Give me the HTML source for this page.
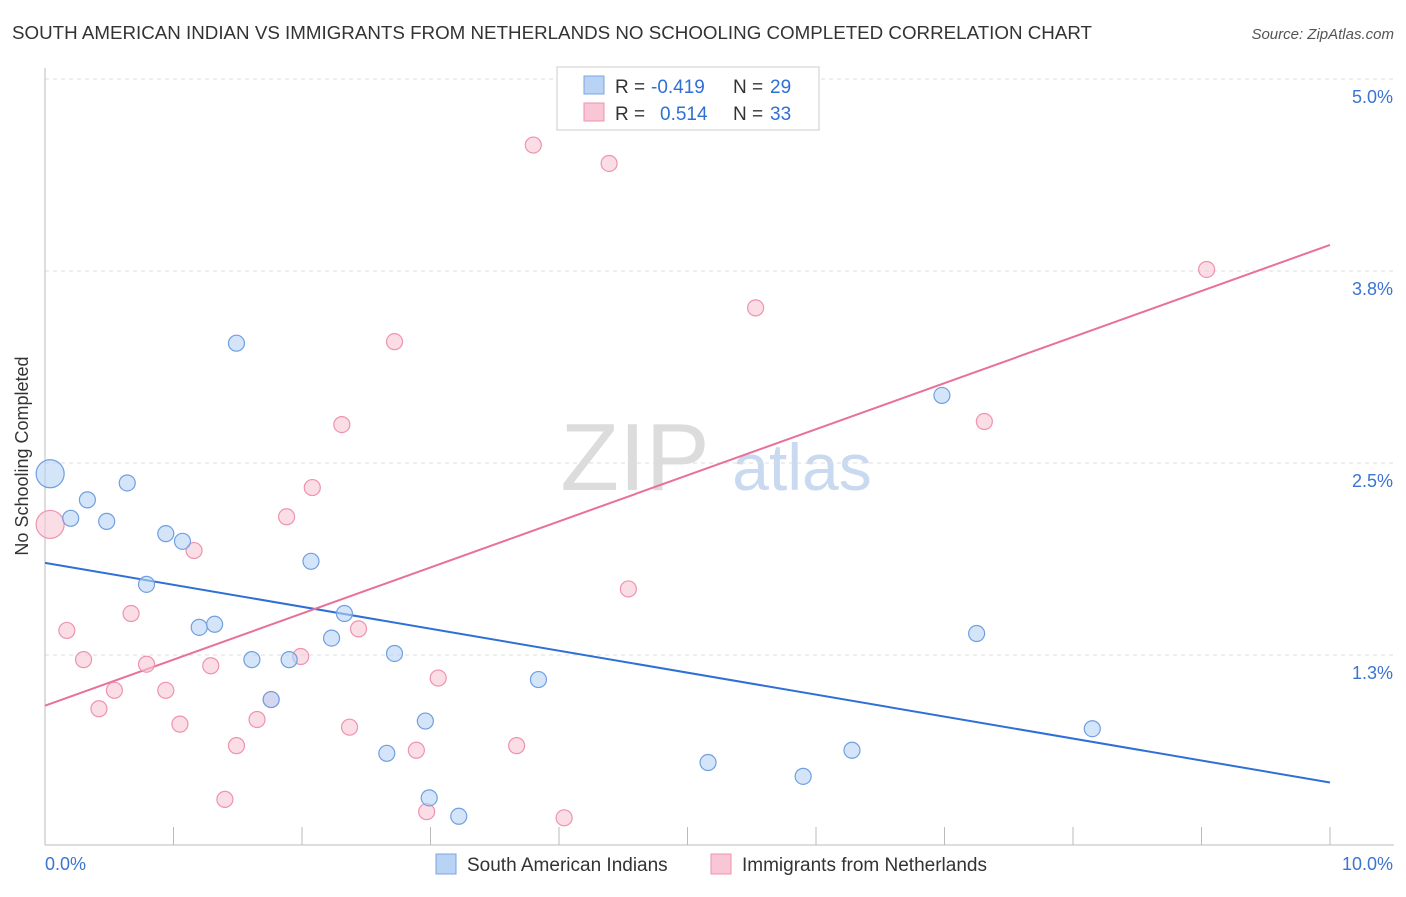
<!DOCTYPE html>
<html><head><meta charset="utf-8"><style>
body{margin:0;background:#fff;font-family:"Liberation Sans",sans-serif;}
svg text{font-family:"Liberation Sans",sans-serif;}
</style></head><body>
<svg id="chart" width="1406" height="892">
<text x="12" y="39" font-size="18" fill="#333" textLength="1080" lengthAdjust="spacingAndGlyphs">SOUTH AMERICAN INDIAN VS IMMIGRANTS FROM NETHERLANDS NO SCHOOLING COMPLETED CORRELATION CHART</text>
<text x="1394" y="39" font-size="15" fill="#555" font-style="italic" text-anchor="end">Source: ZipAtlas.com</text>
<text x="28" y="456" font-size="18" fill="#333" transform="rotate(-90 28 456)" text-anchor="middle">No Schooling Completed</text>
<g><text x="635" y="490" font-size="96" fill="#dcdcdc" font-family="Liberation Serif" text-anchor="middle">ZIP</text><text x="802" y="490" font-size="66" fill="#c9d9f0" text-anchor="middle">atlas</text></g>
<g id="grid"></g><g id="axes"></g><g id="lines"></g><g id="pts"></g>
<g>
<rect x="557" y="67" width="262" height="63" fill="#fff" stroke="#ccc"/>
<rect x="584" y="76" width="20" height="18" fill="#b9d3f5" stroke="#7aa6e0"/>
<rect x="584" y="103" width="20" height="18" fill="#f9c6d6" stroke="#ee93b0"/>
<text x="615" y="93" font-size="19" fill="#333">R =</text>
<text x="651" y="93" font-size="19" fill="#2f6fd6">-0.419</text>
<text x="733" y="93" font-size="19" fill="#333">N =</text>
<text x="770" y="93" font-size="19" fill="#2f6fd6">29</text>
<text x="615" y="120" font-size="19" fill="#333">R =</text>
<text x="660" y="120" font-size="19" fill="#2f6fd6">0.514</text>
<text x="733" y="120" font-size="19" fill="#333">N =</text>
<text x="770" y="120" font-size="19" fill="#2f6fd6">33</text>
</g>
<g>
<rect x="436" y="854" width="20" height="20" fill="#b9d3f5" stroke="#7aa6e0"/>
<text x="467" y="871" font-size="19" fill="#333">South American Indians</text>
<rect x="711" y="854" width="20" height="20" fill="#f9c6d6" stroke="#ee93b0"/>
<text x="742" y="871" font-size="19" fill="#333">Immigrants from Netherlands</text>
</g>
</svg>
<script>
const yTicks=[5.0,3.75,2.5,1.25];
const yTickLabels=["5.0%","3.8%","2.5%","1.3%"];
const xTickVals=[1,2,3,4,5,6,7,8,9,10];
const blueX=[0.04,0.20,0.33,0.48,0.64,0.79,0.94,1.07,1.20,1.32,1.49,1.61,1.76,1.90,2.07,2.23,2.33,2.72,2.66,2.96,2.99,3.22,3.84,5.16,5.90,6.28,6.98,7.25,8.15];
const blueY=[2.43,2.14,2.26,2.12,2.37,1.71,2.04,1.99,1.43,1.45,3.28,1.22,0.96,1.22,1.86,1.36,1.52,1.26,0.61,0.82,0.32,0.20,1.09,0.55,0.46,0.63,2.94,1.39,0.77];
const pinkX=[0.04,0.17,0.30,0.42,0.54,0.67,0.79,0.94,1.05,1.16,1.29,1.40,1.49,1.65,1.76,1.88,1.99,2.08,2.31,2.37,2.44,2.72,2.89,2.97,3.06,3.67,3.80,4.04,4.39,4.54,5.53,7.31,9.04];
const pinkY=[2.10,1.41,1.22,0.90,1.02,1.52,1.19,1.02,0.80,1.93,1.18,0.31,0.66,0.83,0.96,2.15,1.24,2.34,2.75,0.78,1.42,3.29,0.63,0.23,1.10,0.66,4.57,0.19,4.45,1.68,3.51,2.77,3.76];
const blueLine=[1.85,0.42];
const pinkLine=[0.92,3.92];
const X=v=>45+v*128.5, Y=v=>847-v*153.6;
const NS="http://www.w3.org/2000/svg";
function mk(t,a,p){const e=document.createElementNS(NS,t);for(const k in a)e.setAttribute(k,a[k]);p.appendChild(e);return e;}
const grid=document.getElementById('grid'),axes=document.getElementById('axes'),lines=document.getElementById('lines'),pts=document.getElementById('pts');
let g=mk('line',{x1:45,x2:1394,y1:79,y2:79,stroke:'#ddd','stroke-dasharray':'4,4'},grid);


yTicks.forEach((v,i)=>{
 const l=mk('line',{x1:45,x2:1394,y1:Y(v),y2:Y(v),stroke:'#ddd','stroke-dasharray':'4,4'},grid);
 
 
 const t=mk('text',{x:1393,y:Y(v)+24,'font-size':18,fill:'#3b74d1','text-anchor':'end'},axes);
 t.textContent=yTickLabels[i];
 
 
});
let a=mk('line',{x1:45,x2:45,y1:68,y2:845,stroke:'#bbb'},axes);


a=mk('line',{x1:45,x2:1394,y1:845,y2:845,stroke:'#bbb'},axes);


xTickVals.forEach(v=>{
 const t=mk('line',{x1:X(v),x2:X(v),y1:827,y2:845,stroke:'#bbb'},axes);
 
 
});
let xl=mk('text',{x:45,y:870,'font-size':18,fill:'#3b74d1'},axes);xl.textContent='0.0%';


xl=mk('text',{x:1393,y:870,'font-size':18,fill:'#3b74d1','text-anchor':'end'},axes);xl.textContent='10.0%';


function series(xs,ys,fill,stroke,name){
 xs.forEach((x,i)=>{
  const c=mk('circle',{cx:X(x),cy:Y(ys[i]),r:i===0?14:8,fill:fill,'fill-opacity':0.6,stroke:stroke,'stroke-width':1.2},pts);
  
  
 });
}
series(pinkX,pinkY,'#f9c6d6','#ee93b0','pink-point');
series(blueX,blueY,'#b9d3f5','#6f9fe0','blue-point');
let bl=mk('line',{x1:X(0),y1:Y(blueLine[0]),x2:X(10),y2:Y(blueLine[1]),stroke:'#2f6fd6','stroke-width':2},lines);


let pl=mk('line',{x1:X(0),y1:Y(pinkLine[0]),x2:X(10),y2:Y(pinkLine[1]),stroke:'#e8709a','stroke-width':2},lines);


</script>
</body></html>
